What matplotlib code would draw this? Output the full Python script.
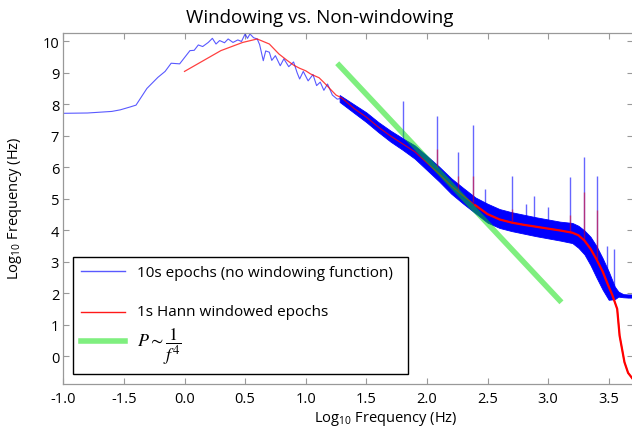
import numpy as np
import matplotlib
matplotlib.use("Agg")
import matplotlib.pyplot as plt
from matplotlib.lines import Line2D
from matplotlib.legend_handler import HandlerLine2D

plt.rcParams['font.family'] = ['Open Sans', 'DejaVu Sans']
plt.rcParams['mathtext.fontset'] = 'stix'

# ---------------- data ----------------
# 10s epochs (no windowing) - low-frequency thin trace
blue_x = [-1.0, -0.8, -0.6, -0.53, -0.45, -0.40, -0.31, -0.22, -0.16, -0.11, -0.04, 0.045, 0.08,
          0.114, 0.15, 0.196, 0.23, 0.26, 0.29, 0.33, 0.36, 0.40, 0.44, 0.47, 0.50, 0.52, 0.54,
          0.57, 0.60, 0.62, 0.65, 0.67, 0.70, 0.72, 0.75, 0.79, 0.82, 0.86, 0.90, 0.93, 0.95,
          0.98, 1.02, 1.06, 1.09, 1.12, 1.15, 1.18, 1.22, 1.26, 1.30]
blue_y = [7.72, 7.73, 7.78, 7.83, 7.92, 7.98, 8.51, 8.86, 9.05, 9.31, 9.29, 9.71, 9.72,
          9.89, 9.84, 9.97, 10.1, 9.92, 10.03, 9.96, 10.08, 9.97, 10.05, 10.0, 10.24, 10.1, 10.24,
          10.12, 10.08, 9.9, 9.39, 9.7, 9.66, 9.4, 9.55, 9.23, 9.45, 9.2, 9.35, 9.0, 8.81,
          9.05, 8.75, 8.95, 8.6, 8.71, 8.45, 8.65, 8.3, 8.17, 8.2]

# 10s epochs - dense noisy band (lower / upper envelope)
band_x = [1.28, 1.4, 1.5, 1.6, 1.7, 1.8, 1.9, 2.0, 2.1, 2.2, 2.3, 2.4, 2.5, 2.6, 2.7, 2.8,
          2.9, 3.0, 3.1, 3.2, 3.25, 3.3, 3.35, 3.4, 3.45, 3.5, 3.55, 3.58, 3.62, 3.66, 3.70]
band_lo = [8.08, 7.73, 7.44, 7.12, 6.82, 6.56, 6.28, 5.92, 5.56, 5.17, 4.85, 4.55, 4.25, 4.08,
           3.98, 3.90, 3.82, 3.75, 3.68, 3.60, 3.45, 3.24, 2.90, 2.50, 2.12, 1.80, 1.82, 1.90,
           1.88, 1.87, 1.87]
band_hi = [8.30, 8.00, 7.75, 7.44, 7.17, 6.93, 6.70, 6.37, 6.03, 5.66, 5.35, 5.05, 4.85, 4.68,
           4.58, 4.50, 4.42, 4.35, 4.28, 4.24, 4.15, 4.00, 3.80, 3.50, 3.12, 2.70, 2.22, 2.06,
           1.98, 1.97, 1.97]

# line-noise spikes in the 10s spectrum
spike_x = [1.80, 2.08, 2.26, 2.38, 2.48, 2.70, 2.82, 2.88, 3.00, 3.18, 3.30, 3.40, 3.49, 3.54]
spike_base = [6.8, 6.0, 5.3, 4.9, 4.6, 4.3, 4.2, 4.15, 4.05, 3.95, 3.7, 3.1, 2.6, 2.2]
spike_top = [8.1, 7.64, 6.48, 7.35, 5.32, 5.74, 4.84, 5.1, 4.74, 5.69, 6.32, 5.74, 3.52, 3.41]

# 1s Hann windowed epochs
red_x = [0.0, 0.30, 0.48, 0.60, 0.70, 0.78, 0.85, 0.90, 0.95, 1.0, 1.04, 1.08, 1.11, 1.15, 1.2,
         1.25, 1.3, 1.4, 1.5, 1.6, 1.7, 1.8, 1.9, 2.0, 2.1, 2.2, 2.3, 2.4, 2.5, 2.6, 2.7, 2.8,
         2.9, 3.0, 3.1, 3.2, 3.25, 3.3, 3.35, 3.4, 3.45, 3.5, 3.53, 3.57, 3.59, 3.63, 3.66, 3.70]
red_y = [9.05, 9.71, 9.97, 10.08, 9.92, 9.6, 9.39, 9.25, 9.15, 9.07, 8.97, 8.9, 8.85, 8.7, 8.5,
         8.3, 8.2, 7.87, 7.6, 7.28, 7.0, 6.75, 6.5, 6.15, 5.8, 5.42, 5.1, 4.8, 4.52, 4.35, 4.25,
         4.18, 4.12, 4.06, 4.0, 3.93, 3.85, 3.68, 3.42, 3.08, 2.7, 2.22, 1.95, 1.51, 0.66, -0.18,
         -0.52, -0.72]
red_spike_x = [2.08, 2.26, 2.38, 2.70, 3.18, 3.30, 3.40]
red_spike_base = [6.0, 5.3, 4.9, 4.3, 3.95, 3.7, 3.1]
red_spike_top = [6.59, 5.74, 5.74, 4.68, 4.49, 5.21, 4.64]

# 1/f^4 reference line
fit_x = [1.26, 3.11]
fit_y = [9.31, 1.72]

xtick_vals = [-1.0, -0.5, 0.0, 0.5, 1.0, 1.5, 2.0, 2.5, 3.0, 3.5]
xtick_labels = ['-1.0', '-1.5', '0.0', '0.5', '1.0', '1.5', '2.0', '2.5', '3.0', '3.5']
ytick_vals = list(range(0, 11))

# ---------------- figure ----------------
W, H = 632, 427
fig = plt.figure(figsize=(W / 100, H / 100), dpi=100)
AX_L, AX_R, AX_T, AX_B = 63.3, 632.7, 34.3, 385.0
aw, ah = AX_R - AX_L, AX_B - AX_T
ax = fig.add_axes([AX_L / W, 1 - AX_B / H, aw / W, ah / H])

blue_c = (0.0, 0.0, 1.0)
green_c = (0.0, 0.88, 0.0)
ax.plot(blue_x, blue_y, color=blue_c, lw=0.8, alpha=0.65)
ax.fill_between(band_x, band_lo, band_hi, color=blue_c, lw=0.6, edgecolor=blue_c)
ax.vlines(spike_x, spike_base, spike_top, color=blue_c, lw=1.0, alpha=0.6)
ax.plot(red_x, red_y, color='red', lw=0.9, alpha=0.75)
n0 = red_x.index(2.4)
ax.plot(red_x[n0:], red_y[n0:], color='red', lw=1.6)
ax.vlines(red_spike_x, red_spike_base, red_spike_top, color='red', lw=1.0, alpha=0.5)
ax.plot(fit_x, fit_y, color=green_c, lw=4, alpha=0.5, solid_capstyle='butt')

ax.set_xlim(-1.0, 3.698)
ax.set_ylim(-0.873, 10.26)
ax.set_xticks(xtick_vals)
ax.set_xticklabels(xtick_labels)
ax.set_yticks(ytick_vals)
ax.tick_params(direction='in', length=4, width=0.8, color='#999999', labelsize=10.5,
               top=True, right=True, pad=5)
ax.tick_params(axis='y', pad=3)
for s in ax.spines.values():
    s.set_color('#999999')
    s.set_linewidth(0.9)

ax.set_xlabel(r'Log$_{\mathregular{10}}$ Frequency (Hz)', fontsize=10.5)
ax.xaxis.set_label_coords((386 - AX_L) / aw, -(419 - AX_B) / ah)
ax.xaxis.label.set_va('center')
ax.set_ylabel(r'Log$_{\mathregular{10}}$ Frequency (Hz)', fontsize=10.5)
ax.yaxis.set_label_coords(-(AX_L - 15) / aw, (AX_B - 208) / ah)
ax.yaxis.label.set_va('center')

fig.text(320 / W, 1 - 18 / H, 'Windowing vs. Non-windowing', ha='center', va='center',
         fontsize=13.5)


class ShiftedLineHandler(HandlerLine2D):
    """Legend line handle shifted vertically (points) to sit beside a two-line label."""
    def __init__(self, shift, **kw):
        super().__init__(**kw)
        self.shift = shift

    def create_artists(self, legend, orig_handle, xdescent, ydescent, width, height,
                       fontsize, trans):
        return super().create_artists(legend, orig_handle, xdescent, ydescent + self.shift,
                                      width, height, fontsize, trans)


h_blue = Line2D([], [], color=blue_c, lw=1, alpha=0.65)
h_red = Line2D([], [], color='red', lw=1, alpha=0.9)
h_green = Line2D([], [], color=green_c, lw=4, alpha=0.5)
handles = [h_blue, h_red, h_green]
labels = ['10s epochs (no windowing function)', '\n1s Hann windowed epochs',
          r'$P \sim \dfrac{1}{f^4}$']
# legend box: x 73.3..408.3, top 258.3
lx0, lx1, ly0 = 73.3, 408.3, 258.3
leg = ax.legend(handles, labels, loc='upper left', mode='expand',
                bbox_to_anchor=((lx0 - AX_L) / aw, (AX_B - ly0) / ah - 0.5,
                                (lx1 - lx0) / aw, 0.5),
                frameon=True, fancybox=False, edgecolor='black', framealpha=1,
                fontsize=11, handlelength=2.9, handletextpad=0.75, borderpad=0.5,
                labelspacing=0.45, borderaxespad=0,
                handler_map={h_red: ShiftedLineHandler(13.0)})
leg.get_frame().set_linewidth(1.0)
leg.get_texts()[2].set_fontsize(13)

fig.savefig('out.png', dpi=100)
